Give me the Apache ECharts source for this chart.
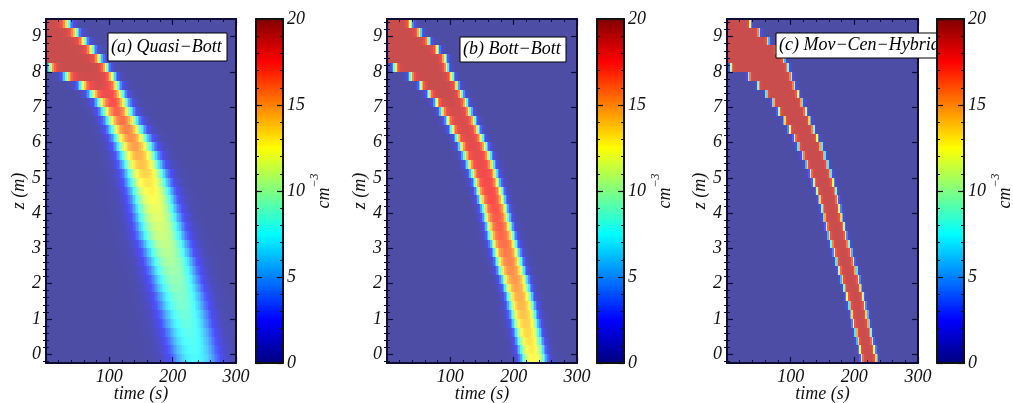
<!DOCTYPE html>
<html>
<head>
<meta charset="utf-8">
<script src="https://cdn.jsdelivr.net/npm/echarts@6/dist/echarts.min.js"></script>
<style>
  html, body { margin: 0; padding: 0; background: #ffffff; }
  #chart { width: 1013px; height: 403px; }
</style>
</head>
<body>
<div id="chart"></div>
<script>
// ---- grid of the concentration field -------------------------------------
// height rows (m), cell centres from the top row down to the bottom row
const zRows = [9.375, 9.125, 8.875, 8.625, 8.375, 8.125, 7.875, 7.625, 7.375, 7.125,
               6.875, 6.625, 6.375, 6.125, 5.875, 5.625, 5.375, 5.125, 4.875, 4.625,
               4.375, 4.125, 3.875, 3.625, 3.375, 3.125, 2.875, 2.625, 2.375, 2.125,
               1.875, 1.625, 1.375, 1.125, 0.875, 0.625, 0.375, 0.125, -0.125];
const Z_STEP = 0.25;      // row height (m)
const T_STEP = 2.5;       // column width (s)
const T_MAX = 300;

// tick labels
const timeTicks = [100, 200, 300];
const zTicks = [0, 1, 2, 3, 4, 5, 6, 7, 8, 9];
const cbarTicks = [0, 5, 10, 15, 20];
const panelTitles = ['(a) Quasi\u2212Bott', '(b) Bott\u2212Bott', '(c) Mov\u2212Cen\u2212Hybrid'];

// ---- per-row description of the falling layer, one entry per row of zRows ----
// lead: time (s) the layer arrives (null = already present at t = 0)
// trail: time (s) the layer has passed, peak: highest concentration (cm^-3),
// edge: softness of the arrival / departure fronts (s)

// (a) Quasi-Bott
const quasiLead  = [null, null, null, null, null, 6, 32, 56, 72, 84,
                    92, 99, 105, 111, 116, 121, 125, 130, 133, 137,
                    140, 143, 146, 149, 152, 157, 161, 165, 169, 173,
                    176, 180, 183, 187, 190, 194, 197, 200, 203];
const quasiTrail = [35, 48, 61, 73, 85, 96, 106, 113, 120, 126,
                    132, 141, 149, 157, 164, 171, 177, 184, 189, 194,
                    198, 202, 206, 210, 214, 219, 223, 228, 232, 236,
                    240, 244, 247, 251, 254, 258, 261, 264, 267];
const quasiPeak  = [19, 19, 19, 19, 19, 19, 18.8, 18.5, 18, 17.5,
                    17, 16.5, 16, 15.6, 15.2, 14.7, 14.2, 13.7, 13.2, 12.8,
                    12.4, 12, 11.7, 11.4, 11.1, 10.8, 10.5, 10.2, 9.9, 9.6,
                    9.3, 9, 8.8, 8.5, 8.3, 8, 7.8, 7.6, 7.4];
const quasiEdge  = [4, 4, 4, 4, 4, 3.5, 4, 4.5, 5, 5.5,
                    6, 6.3, 6.6, 6.9, 7.2, 7.4, 7.6, 7.8, 8, 8.2,
                    8.4, 8.6, 8.8, 9, 9.1, 9.2, 9.3, 9.4, 9.5, 9.6,
                    9.7, 9.8, 9.9, 10, 10, 10, 10, 10, 10];

// (b) Bott-Bott
const bottLead  = [null, null, null, null, null, 12, 37, 53, 66, 77,
                   86, 95, 102, 110, 116, 122, 128, 134, 139, 143,
                   147, 152, 155, 159, 162, 166, 170, 174, 178, 183,
                   187, 191, 194, 197, 200, 204, 207, 210, 213];
const bottTrail = [38, 52, 66, 80, 92, 95, 103, 111, 118, 125,
                   131, 138, 144, 150, 156, 162, 167, 172, 176, 181,
                   184, 188, 191, 195, 199, 203, 207, 211, 215, 220,
                   223, 227, 231, 234, 237, 240, 243, 246, 249];
const bottPeak  = [19, 19, 19, 19, 19, 19, 19, 19, 19, 18.8,
                   18.7, 18.6, 18.5, 18.4, 18.3, 18.2, 18.1, 18, 17.9, 17.8,
                   17.6, 17.4, 17.2, 17, 16.8, 16.6, 16.3, 16, 15.7, 15.4,
                   15.1, 14.8, 14.5, 14.2, 13.9, 13.6, 13.3, 13, 12.7];
const bottEdge  = [2.5, 2.5, 2.5, 2.5, 2.5, 2.3, 2.4, 2.5, 2.6, 2.7,
                   2.8, 2.9, 3, 3, 3.1, 3.1, 3.2, 3.2, 3.3, 3.3,
                   3.4, 3.4, 3.5, 3.5, 3.6, 3.6, 3.7, 3.7, 3.8, 3.8,
                   3.9, 3.9, 4, 4, 4.1, 4.1, 4.2, 4.2, 4.3];

// (c) Mov-Cen-Hybrid
const hybridLead  = [null, null, null, null, null, 6, 34, 49, 62, 72,
                     81, 90, 98, 106, 112, 119, 125, 131, 136, 141,
                     145, 149, 152, 156, 160, 164, 168, 172, 176, 180,
                     184, 188, 192, 195, 198, 202, 205, 208, 211];
const hybridTrail = [37, 51, 65, 78, 90, 96, 101, 106, 112, 118,
                     124, 130, 136, 142, 148, 153, 158, 163, 167, 171,
                     174, 177, 180, 184, 187, 191, 195, 199, 203, 207,
                     210, 214, 217, 220, 223, 226, 229, 232, 235];
const hybridPeak  = [19, 19, 19, 19, 19, 19, 19, 19, 19, 19,
                     19, 19, 19, 19, 19, 19, 19, 19, 19, 19,
                     19, 19, 19, 19, 19, 19, 19, 19, 19, 19,
                     19, 19, 19, 19, 19, 19, 19, 19, 19];
const hybridEdge  = [1.3, 1.3, 1.3, 1.3, 1.3, 1.3, 1.3, 1.3, 1.3, 1.3,
                     1.3, 1.3, 1.3, 1.3, 1.3, 1.3, 1.3, 1.3, 1.3, 1.3,
                     1.3, 1.3, 1.3, 1.3, 1.3, 1.3, 1.3, 1.3, 1.3, 1.3,
                     1.3, 1.3, 1.3, 1.3, 1.3, 1.3, 1.3, 1.3, 1.3];

// ---- layout and style -------------------------------------------------------
const PLOT_TOP = 19, PLOT_H = 344, CBAR_W = 27;
const layout = [
  { left: 46,  width: 190, cbar: 256, box: [108, 33, 119, 28] },
  { left: 387, width: 190, cbar: 597, box: [460, 37, 106, 25] },
  { left: 727, width: 191, cbar: 937, box: [776, 33, 175, 25] }
];
const fields = [
  { lead: quasiLead,  trail: quasiTrail,  peak: quasiPeak,  edge: quasiEdge },
  { lead: bottLead,   trail: bottTrail,   peak: bottPeak,   edge: bottEdge },
  { lead: hybridLead, trail: hybridTrail, peak: hybridPeak, edge: hybridEdge }
];

const AX = '#0c0c34';
const SERIF = 'Liberation Serif';
const labelFont = { fontFamily: SERIF, fontStyle: 'italic', fontSize: 18, color: '#111' };
const nameFont = { fontFamily: SERIF, fontStyle: 'italic', fontSize: 18, color: '#111' };

// jet colour map, and the same map washed towards white for the field itself
const JET = ['#000080', '#0000ff', '#0080ff', '#00ffff', '#80ff80',
             '#ffff00', '#ff8000', '#ff0000', '#800000'];
function wash(hex, a) {
  const n = parseInt(hex.slice(1), 16);
  const c = [(n >> 16) & 255, (n >> 8) & 255, n & 255].map(v => Math.round(v * a + 255 * (1 - a)));
  return 'rgb(' + c.join(',') + ')';
}
const JET_WASHED = JET.map(h => wash(h, 0.7));

// ---- building the cells --------------------------------------------------
const sigmoid = x => 1 / (1 + Math.exp(-x));
function buildCells(f) {
  const cells = [];
  const nCols = Math.round(T_MAX / T_STEP);
  for (let r = 0; r < zRows.length; r++) {
    const lead = f.lead[r], trail = f.trail[r], peak = f.peak[r], w = f.edge[r];
    const norm = lead == null ? 1 : Math.pow(sigmoid((trail - lead) / 2 / w), 2);
    for (let c = 0; c < nCols; c++) {
      const t = (c + 0.5) * T_STEP;
      const rise = lead == null ? 1 : sigmoid((t - lead) / w);
      const fall = sigmoid((trail - t) / w);
      cells.push([t, zRows[r], Math.min(peak, peak * rise * fall / norm)]);
    }
  }
  return cells;
}
function renderCell(params, api) {
  const t = api.value(0), z = api.value(1);
  const a = api.coord([t - T_STEP / 2, z + Z_STEP / 2]);
  const b = api.coord([t + T_STEP / 2, z - Z_STEP / 2]);
  const x0 = Math.round(a[0]), x1 = Math.round(b[0]);
  const y0 = Math.round(a[1]), y1 = Math.round(b[1]);
  return { type: 'rect', shape: { x: x0, y: y0, width: x1 - x0, height: y1 - y0 },
           style: { fill: api.visual('color') } };
}

// colour bar swatches
const CB_STEP = 0.1;
const cbarLevels = [];
for (let v = CB_STEP / 2; v < 20; v += CB_STEP) cbarLevels.push([0.5, +v.toFixed(2)]);
function renderSwatch(params, api) {
  const v = api.value(1);
  const a = api.coord([0, v + CB_STEP / 2]);
  const b = api.coord([1, v - CB_STEP / 2]);
  const x0 = Math.round(a[0]), x1 = Math.round(b[0]);
  const y0 = Math.round(a[1]), y1 = Math.round(b[1]);
  return { type: 'rect', shape: { x: x0, y: y0, width: x1 - x0, height: y1 - y0 },
           style: { fill: api.visual('color') } };
}

// minor ticks on the height axis, every 0.2 m
const zMinor = [];
for (let n = -1; n <= 9; n++) {
  for (let k = 1; k <= 4; k++) {
    const v = +(n + 0.2 * k).toFixed(2);
    if (v > -0.25 && v < 9.5) zMinor.push(v);
  }
}

// ---- option -------------------------------------------------------------
const grid = [], xAxis = [], yAxis = [], series = [], graphic = [];
const fieldSeries = [], cbarSeries = [];

function tickStyle(len, w) {
  return { show: true, inside: true, length: len, lineStyle: { color: AX, width: w } };
}

layout.forEach((L, i) => {
  // field plot
  const g = grid.length;
  grid.push({ left: L.left, top: PLOT_TOP, width: L.width, height: PLOT_H,
              outerBoundsMode: 'none', containLabel: false });
  const xb = xAxis.length;
  const xCommon = {
    gridIndex: g, type: 'value', min: 0, max: T_MAX, interval: 100, z: 6,
    axisLine: { show: true, onZero: false, lineStyle: { color: AX, width: 2 } },
    axisTick: tickStyle(6, 1.2),
    minorTick: { show: true, splitNumber: 5, length: 3, lineStyle: { color: AX, width: 1 } },
    splitLine: { show: false }, minorSplitLine: { show: false }
  };
  xAxis.push(Object.assign({}, xCommon, {
    position: 'bottom',
    axisLabel: Object.assign({ margin: 5, customValues: timeTicks }, labelFont),
    name: 'time (s)', nameLocation: 'middle', nameGap: 22, nameMoveOverlap: false,
    nameTextStyle: nameFont
  }));
  xAxis.push(Object.assign({}, xCommon, { position: 'top', axisLabel: { show: false } }));

  const yl = yAxis.length;
  const yCommon = { gridIndex: g, type: 'value', min: -0.25, max: 9.5, z: 6,
                    splitLine: { show: false } };
  yAxis.push(Object.assign({}, yCommon, {
    position: 'left',
    axisLine: { show: true, onZero: false, lineStyle: { color: AX, width: 2 } },
    axisTick: Object.assign(tickStyle(6, 1.2), { customValues: zTicks }),
    axisLabel: Object.assign({ margin: 5, customValues: zTicks }, labelFont),
    name: 'z (m)', nameLocation: 'middle', nameGap: 17, nameTextStyle: nameFont
  }));
  yAxis.push(Object.assign({}, yCommon, {
    position: 'left', axisLine: { show: false },
    axisTick: Object.assign(tickStyle(3, 1), { customValues: zMinor }),
    axisLabel: { show: false }
  }));
  yAxis.push(Object.assign({}, yCommon, {
    position: 'right',
    axisLine: { show: true, onZero: false, lineStyle: { color: AX, width: 2 } },
    axisTick: Object.assign(tickStyle(6, 1.2), { customValues: zTicks }),
    axisLabel: { show: false }
  }));
  yAxis.push(Object.assign({}, yCommon, {
    position: 'right', axisLine: { show: false },
    axisTick: Object.assign(tickStyle(3, 1), { customValues: zMinor }),
    axisLabel: { show: false }
  }));

  fieldSeries.push(series.length);
  series.push({
    type: 'custom', xAxisIndex: xb, yAxisIndex: yl, z: 2, clip: true,
    silent: true, animation: false, progressive: 0,
    encode: { x: 0, y: 1 },
    renderItem: renderCell, data: buildCells(fields[i])
  });

  // colour bar
  const cg = grid.length;
  grid.push({ left: L.cbar, top: PLOT_TOP, width: CBAR_W, height: PLOT_H,
              outerBoundsMode: 'none', containLabel: false });
  const cx = xAxis.length;
  const cxCommon = { gridIndex: cg, type: 'value', min: 0, max: 1, z: 11,
    axisLine: { show: true, onZero: false, lineStyle: { color: '#111', width: 2 } },
    axisTick: { show: false }, axisLabel: { show: false }, splitLine: { show: false } };
  xAxis.push(Object.assign({}, cxCommon, { position: 'bottom' }));
  xAxis.push(Object.assign({}, cxCommon, { position: 'top' }));
  const cy = yAxis.length;
  const cyCommon = { gridIndex: cg, type: 'value', min: 0, max: 20, interval: 5, z: 11,
    axisLine: { show: true, onZero: false, lineStyle: { color: '#111', width: 2 } },
    axisTick: { show: true, inside: true, length: 6, lineStyle: { color: '#111', width: 1.2 } },
    minorTick: { show: true, splitNumber: 5, length: 3, lineStyle: { color: '#111', width: 1 } },
    splitLine: { show: false }, minorSplitLine: { show: false } };
  yAxis.push(Object.assign({}, cyCommon, { position: 'left', axisLabel: { show: false } }));
  yAxis.push(Object.assign({}, cyCommon, {
    position: 'right',
    axisLabel: Object.assign({ margin: 4, customValues: cbarTicks }, labelFont),
    name: '{b|cm}{s|\u22123}', nameLocation: 'middle', nameGap: 24,
    nameTextStyle: {
      rich: {
        b: { fontFamily: SERIF, fontStyle: 'italic', fontSize: 18, color: '#111',
             lineHeight: 24, verticalAlign: 'bottom' },
        s: { fontFamily: SERIF, fontStyle: 'italic', fontSize: 12, color: '#111',
             lineHeight: 24, verticalAlign: 'top' }
      }
    }
  }));
  cbarSeries.push(series.length);
  series.push({
    type: 'custom', xAxisIndex: cx, yAxisIndex: cy, z: 10, clip: true,
    silent: true, animation: false, progressive: 0,
    encode: { x: 0, y: 1 },
    renderItem: renderSwatch, data: cbarLevels
  });

  // panel title box
  const B = L.box;
  graphic.push({
    type: 'rect', z: 7, silent: true,
    shape: { x: B[0], y: B[1], width: B[2], height: B[3] },
    style: { fill: '#ffffff', stroke: '#000000', lineWidth: 1 }
  });
  graphic.push({
    type: 'text', z: 7, silent: true, x: B[0] + 3, y: B[1] + B[3] / 2,
    style: { text: panelTitles[i], font: 'italic 18px "' + SERIF + '"', fill: '#000',
             align: 'left', verticalAlign: 'middle' }
  });
});

const option = {
  animation: false,
  backgroundColor: '#ffffff',
  grid, xAxis, yAxis, series,
  graphic: { elements: graphic },
  visualMap: [
    { type: 'continuous', show: false, min: 0, max: 20, dimension: 2,
      seriesIndex: fieldSeries, inRange: { color: JET_WASHED } },
    { type: 'continuous', show: false, min: 0, max: 20, dimension: 1,
      seriesIndex: cbarSeries, inRange: { color: JET } }
  ]
};

const chart = echarts.init(document.getElementById('chart'), null, { renderer: 'canvas' });
chart.setOption(option);
</script>
</body>
</html>
